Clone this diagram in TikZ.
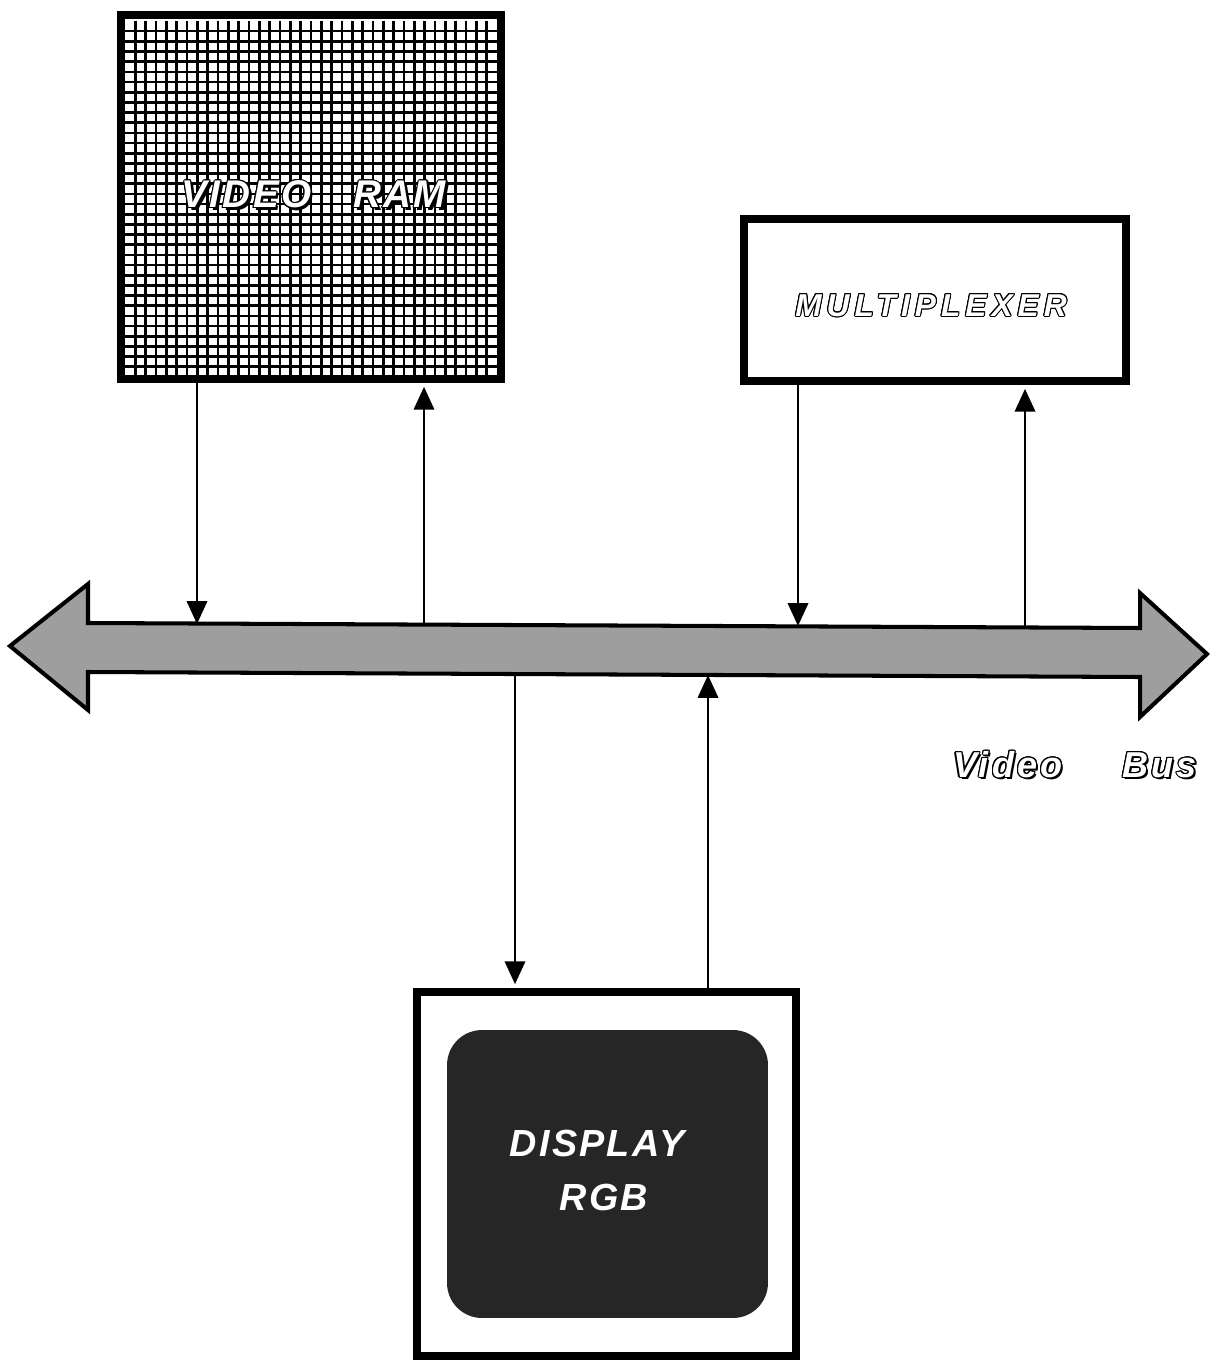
\documentclass[tikz,border=0pt]{standalone}
\usepackage{fontspec}
\setmainfont{Liberation Sans}
\newfontfamily\ramfont{Liberation Sans}[LetterSpace=6]
\newfontfamily\muxfont{Liberation Sans}[LetterSpace=16]
\newfontfamily\busfont{Liberation Sans}[LetterSpace=9]
\newfontfamily\dispfont{Liberation Sans}[LetterSpace=6]
\usepackage{contour}
\contourlength{0.6pt}
\contournumber{16}
\usetikzlibrary{arrows.meta}
\begin{document}
\begin{tikzpicture}[x=0.02cm,y=-0.02cm,
  box/.style={draw=black, line width=4.5pt, rectangle, inner sep=0pt, fill=white},
  link/.style={line width=1.6pt, -{Triangle[length=13pt,width=11.5pt]}},
  gridline/.style={line width=1.5pt},
  busbody/.style={fill=black!38, draw=black, line width=2.3pt, line join=miter},
  outl/.style={text=white, inner sep=0pt},
  shad/.style={text=black, inner sep=0pt}]
\useasboundingbox (0,0) rectangle (1212,1364);

% Video RAM
\node[box, minimum width=7.6cm, minimum height=7.28cm] (vram) at (311,197) {};
\foreach \i in {1,...,35} \draw[gridline] ({125+\i*10.333},21) -- ({125+\i*10.333},377);
\foreach \j in {1,...,34} \draw[gridline] (125,{21+\j*10.171}) -- (497,{21+\j*10.171});
\node[shad] (ramshadow) at (316.5,197.5) {\ramfont\bfseries\itshape\fontsize{22}{26}\selectfont VIDEO\hspace{24pt}RAM};
\node[outl] (ramlabel) at (314,195) {\ramfont\bfseries\itshape\fontsize{22}{26}\selectfont\contour{black}{VIDEO\hspace{24pt}RAM}};

% Multiplexer
\node[box, minimum width=7.64cm, minimum height=3.24cm] (mux) at (935,300) {};
\node[outl] (muxlabel) at (931,306) {\muxfont\bfseries\itshape\fontsize{18}{22}\selectfont\contour{black}{MULTIPLEXER}};

% Display
\node[box, minimum width=7.58cm, minimum height=7.28cm] (disp) at (606.5,1174) {};
\node[fill=black!85, rounded corners=0.7cm, minimum width=6.42cm, minimum height=5.76cm, inner sep=0pt] (scr) at (607.5,1174) {};
\node[text=white, inner sep=0pt] (displabel) at (597,1143) {\dispfont\bfseries\itshape\fontsize{21.5}{26}\selectfont DISPLAY};
\node[text=white, inner sep=0pt] (rgblabel) at (604,1197) {\dispfont\bfseries\itshape\fontsize{21.5}{26}\selectfont RGB};

% Video bus
\draw[busbody] (10,646) -- (88,584) -- (88,623) -- (1140,628) -- (1140,593) -- (1207,654)
  -- (1140,717) -- (1140,677) -- (88,672) -- (88,710) -- cycle;
\node[shad] (busshadow) at (1077,767) {\busfont\bfseries\itshape\fontsize{20.5}{24}\selectfont Video\hspace{34pt}Bus};
\node[outl] (buslabel) at (1075,765) {\busfont\bfseries\itshape\fontsize{20.5}{24}\selectfont\contour{black}{Video\hspace{34pt}Bus}};

% bus attachment points
\coordinate (bA) at (197,624);
\coordinate (bB) at (424,625);
\coordinate (bC) at (798,626);
\coordinate (bD) at (1025,627);
\coordinate (bE) at (515,674);
\coordinate (bF) at (708,675);

\draw[link] (vram.south -| bA) -- (bA);
\draw[link, shorten >=2.2pt] (bB) -- (vram.south -| bB);
\draw[link] (mux.south -| bC) -- (bC);
\draw[link, shorten >=2.2pt] (bD) -- (mux.south -| bD);
\draw[link, shorten >=2.2pt] (bE) -- (disp.north -| bE);
\draw[link] (disp.north -| bF) -- (bF);
\end{tikzpicture}
\end{document}
